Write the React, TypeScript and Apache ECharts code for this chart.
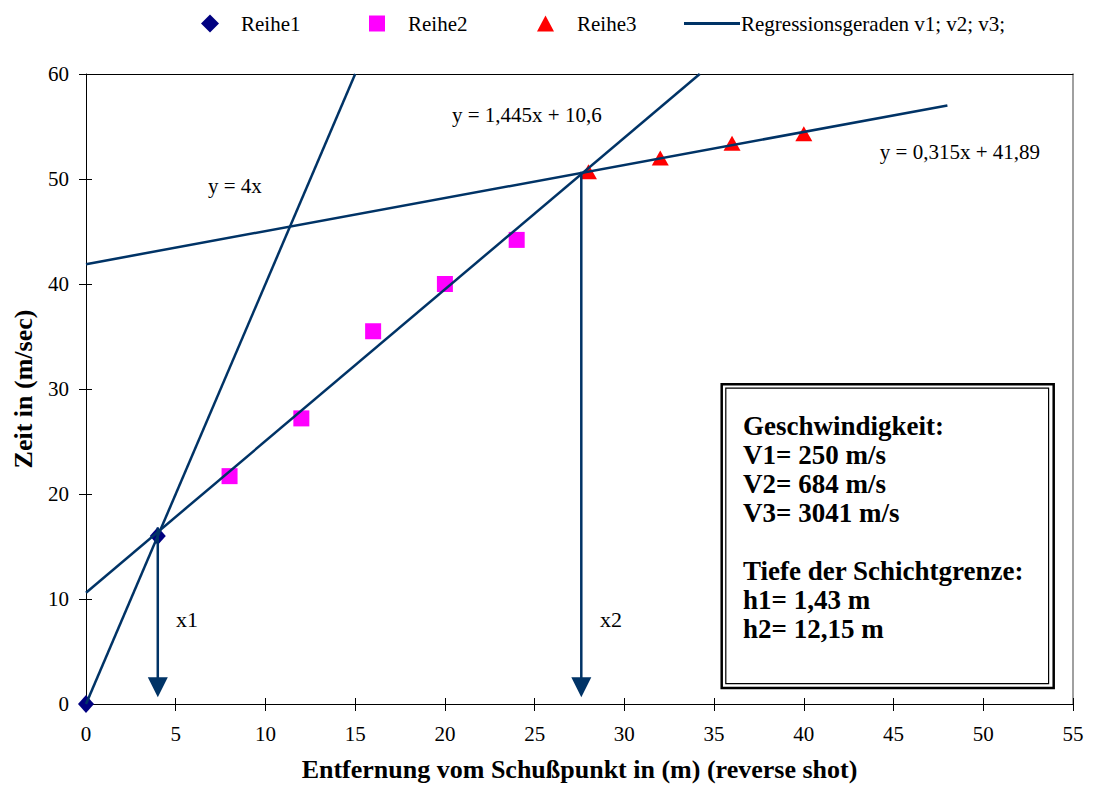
import React, { useEffect, useRef } from "react";
import * as echarts from "echarts";

// ---- data ----
const reihe1: number[][] = [[0, 0], [4, 16.0]];
const reihe2: number[][] = [[8, 21.7], [12, 27.2], [16, 35.5], [20, 40.0], [24, 44.2]];
const reihe3: number[][] = [[28, 50.7], [32, 52.0], [36, 53.4], [40, 54.3]];

// regression line end points
const regV1: number[][] = [[0, 0], [15, 60]];
const regV2: number[][] = [[0, 10.6], [34.2, 60]];
const regV3: number[][] = [[0, 41.89], [48, 57.0]];

// arrows (shaft from top to head, head position)
const arrowX1: number[][] = [[4, 16.8], [4, 2.2]];
const arrowX2: number[][] = [[27.6, 50.7], [27.6, 2.2]];
const arrowHeads: number[][] = [[4, 1.6], [27.6, 1.6]];

const xMin = 0, xMax = 55, xStep = 5;
const yMin = 0, yMax = 60, yStep = 10;

const eqV1 = "y = 4x";
const eqV2 = "y = 1,445x + 10,6";
const eqV3 = "y = 0,315x + 41,89";
const markX1 = "x1";
const markX2 = "x2";
const infoLines = [
  "Geschwindigkeit:",
  "V1= 250 m/s",
  "V2= 684 m/s",
  "V3= 3041 m/s",
  "",
  "Tiefe der Schichtgrenze:",
  "h1= 1,43 m",
  "h2= 12,15 m",
];

const regName = "Regressionsgeraden v1; v2; v3;";
const FONT = '"Liberation Serif", "Times New Roman", serif';
const LINE = "#003366";

export default function App() {
  const ref = useRef<HTMLDivElement>(null);
  useEffect(() => {
    if (!ref.current) return;
    const chart = echarts.init(ref.current, undefined, { renderer: "svg" });
    const legendText = { fontFamily: FONT, fontSize: 21, color: "#000" };
    const option: any = {
      animation: false,
      backgroundColor: "#fff",
      grid: { left: 86, right: 20, top: 74, bottom: 82, containLabel: false },
      legend: [
        {
          left: 196, top: 8, itemWidth: 18, itemHeight: 18, selectedMode: false,
          data: [{ name: "Reihe1", icon: "diamond", itemStyle: { color: "#000080", opacity: 1 } }],
          textStyle: { ...legendText, padding: [0, 0, 0, 17] },
        },
        {
          left: 364, top: 8, itemWidth: 16, itemHeight: 16, selectedMode: false,
          data: [{ name: "Reihe2", icon: "rect", itemStyle: { color: "#FF00FF", opacity: 1 } }],
          textStyle: { ...legendText, padding: [0, 0, 0, 18] },
        },
        {
          left: 532, top: 8, itemWidth: 17, itemHeight: 16, selectedMode: false,
          data: [{ name: "Reihe3", icon: "triangle", itemStyle: { color: "#FF0000", opacity: 1 } }],
          textStyle: { ...legendText, padding: [0, 0, 0, 18] },
        },
        {
          left: 679, top: 8, itemWidth: 56, itemHeight: 3, selectedMode: false,
          data: [{ name: regName, icon: "rect", itemStyle: { color: LINE } }],
          textStyle: { ...legendText, padding: [0, 0, 0, -4] },
        },
      ],
      xAxis: [
        {
          type: "value", min: xMin, max: xMax, interval: xStep, position: "bottom",
          name: "Entfernung vom Schußpunkt in (m) (reverse shot)",
          nameLocation: "middle", nameGap: 52,
          nameTextStyle: { fontFamily: FONT, fontSize: 26, fontWeight: "bold", color: "#000" },
          axisLine: { show: true, onZero: false, lineStyle: { color: "#000", width: 1 } },
          axisTick: { show: true, length: 7, lineStyle: { color: "#000" } },
          axisLabel: { fontFamily: FONT, fontSize: 21, color: "#000", margin: 19 },
          splitLine: { show: false },
        },
        {
          type: "value", min: xMin, max: xMax, interval: xStep, position: "top",
          axisLine: { show: true, onZero: false, lineStyle: { color: "#000", width: 1 } },
          axisTick: { show: false }, axisLabel: { show: false }, splitLine: { show: false },
        },
        {
          type: "value", min: xMin, max: xMax, interval: xStep, position: "bottom",
          axisLine: { show: false, onZero: false },
          axisTick: { show: true, inside: true, length: 6, lineStyle: { color: "#000" } },
          axisLabel: { show: false }, splitLine: { show: false },
        },
      ],
      yAxis: [
        {
          type: "value", min: yMin, max: yMax, interval: yStep, position: "left",
          name: "Zeit in (m/sec)", nameLocation: "middle", nameGap: 50,
          nameTextStyle: { fontFamily: FONT, fontSize: 26, fontWeight: "bold", color: "#000" },
          axisLine: { show: true, onZero: false, lineStyle: { color: "#000", width: 1 } },
          axisTick: { show: true, length: 7, lineStyle: { color: "#000" } },
          axisLabel: { fontFamily: FONT, fontSize: 21, color: "#000", margin: 17 },
          splitLine: { show: false },
        },
        {
          type: "value", min: yMin, max: yMax, interval: yStep, position: "right",
          axisLine: { show: true, onZero: false, lineStyle: { color: "#808080", width: 1.5 } },
          axisTick: { show: false }, axisLabel: { show: false }, splitLine: { show: false },
        },
        {
          type: "value", min: yMin, max: yMax, interval: yStep, position: "left",
          axisLine: { show: false, onZero: false },
          axisTick: { show: true, inside: true, length: 6, lineStyle: { color: "#000" } },
          axisLabel: { show: false }, splitLine: { show: false },
        },
      ],
      series: [
        {
          name: "Reihe1", type: "scatter", data: reihe1, symbol: "diamond", symbolSize: [16, 18],
          itemStyle: { color: "#000080", opacity: 1 }, z: 2,
        },
        {
          name: "Reihe2", type: "scatter", data: reihe2, symbol: "rect", symbolSize: 16,
          itemStyle: { color: "#FF00FF", opacity: 1 }, z: 2,
        },
        {
          name: "Reihe3", type: "scatter", data: reihe3, symbol: "triangle", symbolSize: [17, 15],
          itemStyle: { color: "#FF0000", opacity: 1 }, z: 2,
        },
        ...[regV1, regV2, regV3].map((d) => ({
          name: regName, type: "line", data: d, symbol: "none", showSymbol: false,
          lineStyle: { color: LINE, width: 2.5 }, itemStyle: { color: LINE }, z: 3,
        })),
        ...[arrowX1, arrowX2].map((d, i) => ({
          name: "Pfeil" + (i + 1), type: "line", data: d, symbol: "none", showSymbol: false,
          lineStyle: { color: LINE, width: 2.5 }, z: 3,
        })),
        {
          name: "Pfeilspitzen", type: "scatter", data: arrowHeads, symbol: "triangle",
          symbolRotate: 180, symbolSize: [20, 20], itemStyle: { color: LINE, opacity: 1 }, z: 4,
        },
      ],
      graphic: [
        { type: "text", x: 208, y: 186, style: { text: eqV1, font: `21px ${FONT}`, fill: "#000", verticalAlign: "middle" } },
        { type: "text", x: 452, y: 115, style: { text: eqV2, font: `21px ${FONT}`, fill: "#000", verticalAlign: "middle" } },
        { type: "text", x: 1040, y: 152, style: { text: eqV3, font: `21px ${FONT}`, fill: "#000", align: "right", verticalAlign: "middle" } },
        { type: "text", x: 176, y: 619, style: { text: markX1, font: `22px ${FONT}`, fill: "#000", verticalAlign: "middle" } },
        { type: "text", x: 600, y: 619, style: { text: markX2, font: `22px ${FONT}`, fill: "#000", verticalAlign: "middle" } },
        {
          type: "rect", shape: { x: 721.7, y: 384.3, width: 332, height: 303.7 },
          style: { fill: "#fff", stroke: "#000", lineWidth: 2.5 }, z: 10,
        },
        {
          type: "rect", shape: { x: 725.8, y: 388.2, width: 322.8, height: 295.4 },
          style: { fill: "none", stroke: "#000", lineWidth: 1.2 }, z: 11,
        },
        {
          type: "text", x: 743, y: 411, z: 12,
          style: {
            text: infoLines.join("\n"), font: `bold 27px ${FONT}`, lineHeight: 29,
            fill: "#000", verticalAlign: "top",
          },
        },
      ],
    };
    chart.setOption(option);
    return () => chart.dispose();
  }, []);
  return (
    <div
      ref={ref}
      style={{ position: "absolute", left: 0, top: 0, width: 1093, height: 787 }}
    />
  );
}
